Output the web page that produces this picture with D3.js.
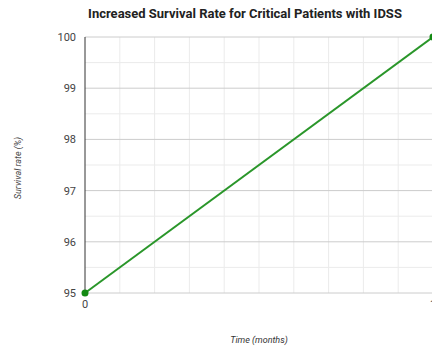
<!DOCTYPE html>
<html lang="en">
<head>
<meta charset="UTF-8">
<title>Survival Rate</title>
<style>
	body { margin: 0; background: #fff; }
	text { font-family: Roboto, "Noto Sans", sans-serif; }
</style>
<script src="https://d3js.org/d3.v7.min.js"></script>
</head>
<body>
<script type="text/javascript">
// data
const months = [0, 1]
const survival = [95, 100]
const yTicks = [95, 96, 97, 98, 99, 100]
const xTicks = [0, 1]

const width = 432
const height = 349
const plotLeft = 85, plotRight = 433, plotTop = 37, plotBottom = 293

const svg = d3.select("body").append("svg")
	.attr("width", width)
	.attr("height", height)

const x = d3.scaleLinear().domain([0, 1]).range([plotLeft, plotRight])
const y = d3.scaleLinear().domain([95, 100]).range([plotBottom, plotTop])

//minor grid lines
svg.selectAll(".vgrid")
	.data(d3.range(1, 10).map(d => d / 10))
	.join("line")
	.attr("x1", d => x(d)).attr("x2", d => x(d))
	.attr("y1", plotTop).attr("y2", plotBottom)
	.attr("stroke", "#ebebeb")

svg.selectAll(".hminor")
	.data(d3.range(95.5, 100, 1))
	.join("line")
	.attr("x1", plotLeft).attr("x2", width)
	.attr("y1", d => y(d)).attr("y2", d => y(d))
	.attr("stroke", "#ebebeb")

//major grid lines
svg.selectAll(".hmajor")
	.data(yTicks)
	.join("line")
	.attr("x1", plotLeft).attr("x2", width)
	.attr("y1", d => y(d)).attr("y2", d => y(d))
	.attr("stroke", "#cccccc")

//left axis line
svg.append("line")
	.attr("x1", plotLeft).attr("x2", plotLeft)
	.attr("y1", plotTop).attr("y2", plotBottom)
	.attr("stroke", "#333")

//tick labels
svg.selectAll(".ylab")
	.data(yTicks)
	.join("text")
	.attr("x", plotLeft - 9)
	.attr("y", d => y(d) + 4)
	.attr("text-anchor", "end")
	.attr("font-size", 11)
	.attr("fill", "#444")
	.text(d => d)

svg.selectAll(".xlab")
	.data(xTicks)
	.join("text")
	.attr("x", d => x(d))
	.attr("y", plotBottom + 15)
	.attr("text-anchor", "middle")
	.attr("font-size", 11)
	.attr("fill", "#444")
	.text(d => d)

//the line
const data = months.map((m, i) => ({ m: m, v: survival[i] }))
svg.append("path")
	.datum(data)
	.attr("fill", "none")
	.attr("stroke", "#2a962a")
	.attr("stroke-width", 2)
	.attr("d", d3.line().x(d => x(d.m)).y(d => y(d.v)))

svg.selectAll(".pt")
	.data(data)
	.join("circle")
	.attr("cx", d => x(d.m))
	.attr("cy", d => y(d.v))
	.attr("r", 3.5)
	.attr("fill", "#138a13")

//titles
svg.append("text")
	.attr("x", 245)
	.attr("y", 18)
	.attr("text-anchor", "middle")
	.attr("font-size", 13)
	.attr("font-weight", "bold")
	.attr("fill", "#222")
	.text("Increased Survival Rate for Critical Patients with IDSS")

svg.append("text")
	.attr("x", 259)
	.attr("y", 343)
	.attr("text-anchor", "middle")
	.attr("font-size", 9)
	.attr("font-style", "italic")
	.attr("fill", "#333")
	.text("Time (months)")

svg.append("text")
	.attr("transform", "translate(21,168) rotate(-90)")
	.attr("text-anchor", "middle")
	.attr("font-size", 9)
	.attr("font-style", "italic")
	.attr("fill", "#444")
	.text("Survival rate (%)")
</script>
</body>
</html>
